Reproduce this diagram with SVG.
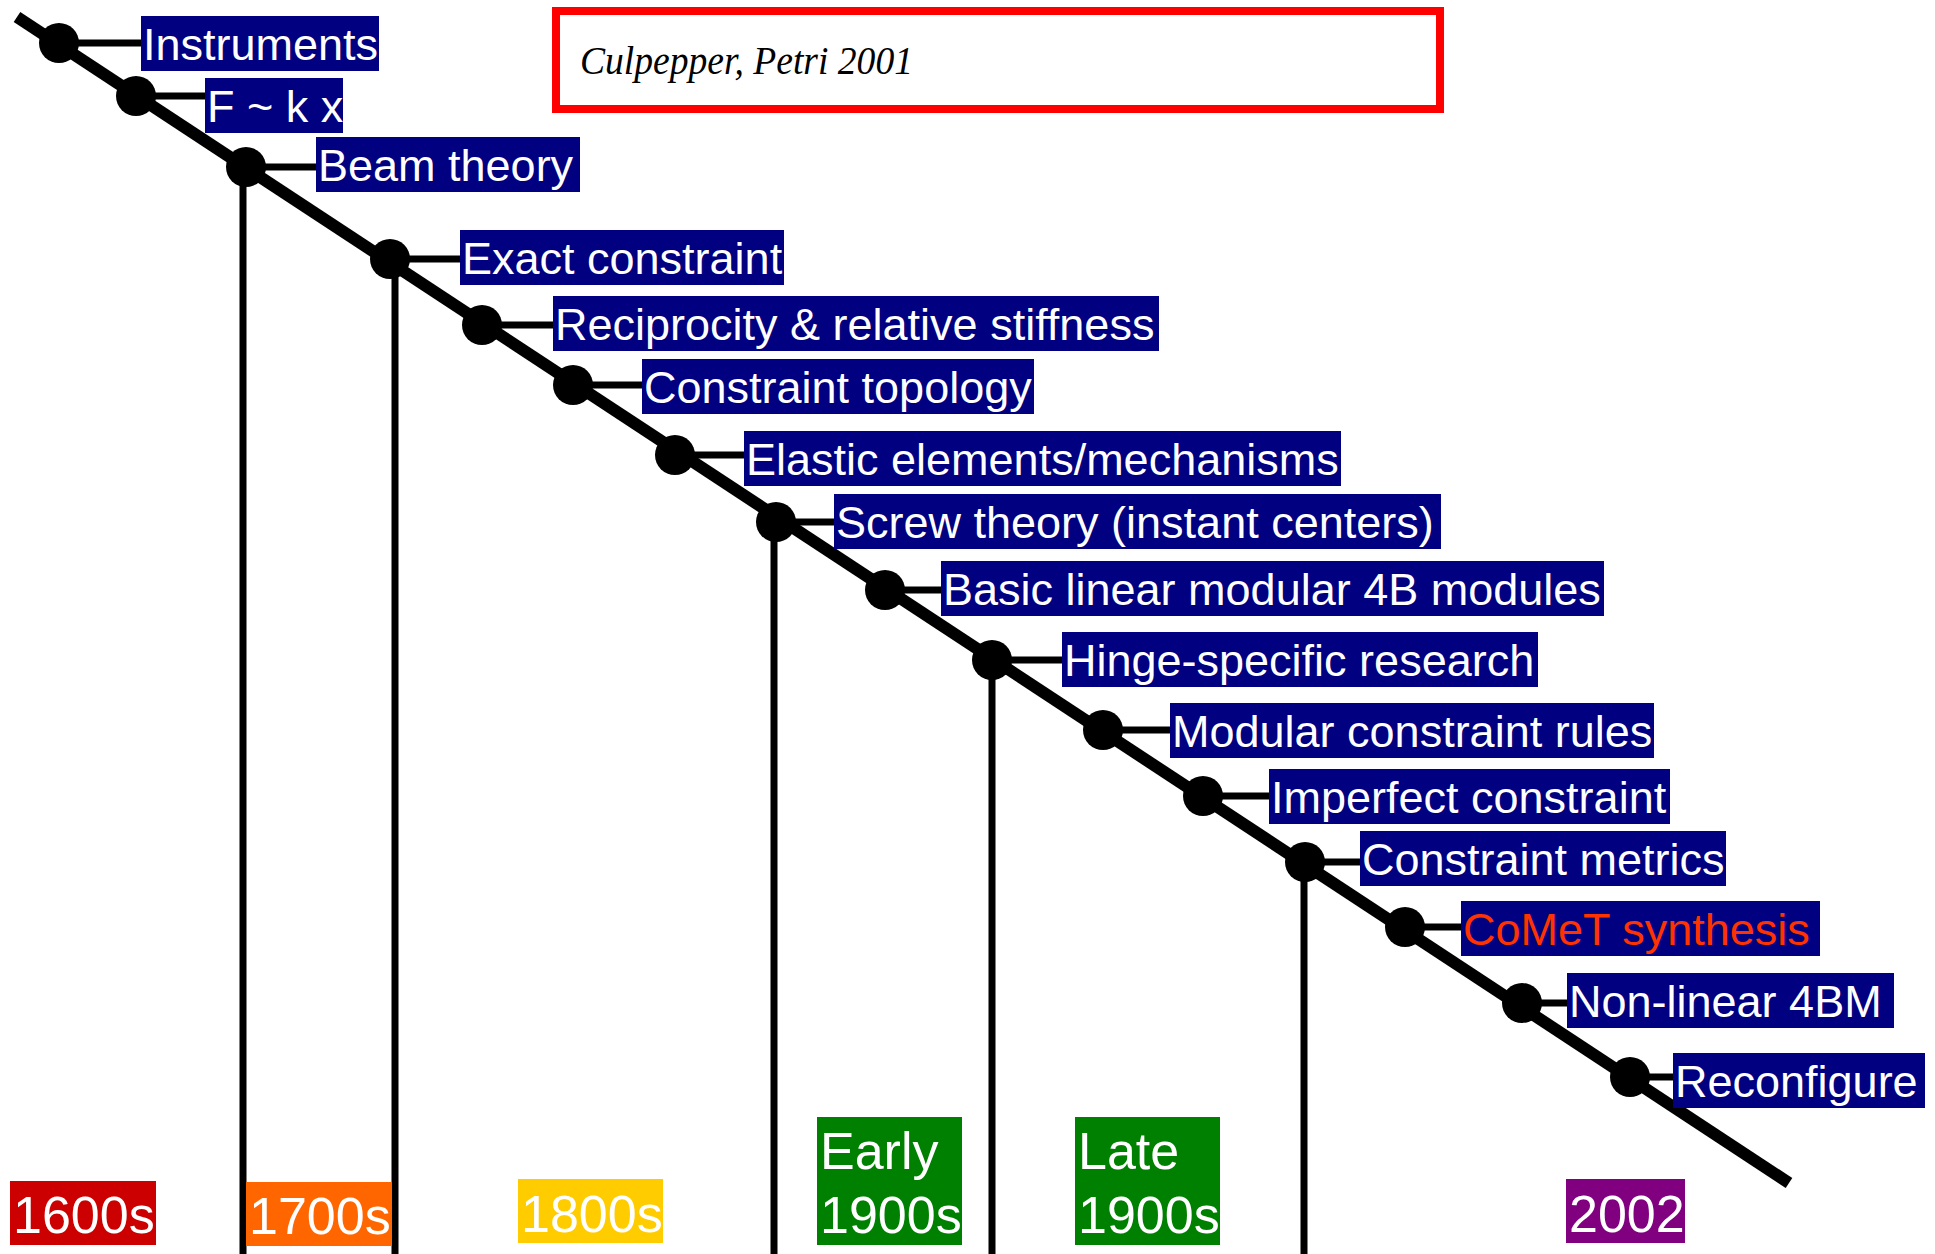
<svg xmlns="http://www.w3.org/2000/svg" width="1935" height="1254" viewBox="0 0 1935 1254">
<style>
.ln{stroke:#000;fill:none}
.main{stroke-width:12}
.tick{stroke-width:7}
.dot{fill:#000}
.box{fill:#000080}
.lbl{font-family:"Liberation Sans",Arial,sans-serif;font-size:45px;fill:#fff}
.per{font-family:"Liberation Sans",Arial,sans-serif;font-size:52px;fill:#fff}
.ref{font-family:"Liberation Serif","Times New Roman",serif;font-style:italic;font-size:39px;fill:#000}
</style>
<rect width="1935" height="1254" fill="#fff"/>
<g id="connectors">
<line class="ln main" x1="17" y1="17" x2="1789" y2="1183"/>
<g class="ln tick">
<line x1="59" y1="43" x2="141" y2="43"/>
<line x1="136" y1="96" x2="205" y2="96"/>
<line x1="246" y1="167" x2="316" y2="167"/>
<line x1="390" y1="259" x2="460" y2="259"/>
<line x1="482" y1="325" x2="553" y2="325"/>
<line x1="573" y1="385" x2="642" y2="385"/>
<line x1="675" y1="455" x2="744" y2="455"/>
<line x1="776" y1="522" x2="834" y2="522"/>
<line x1="885" y1="590" x2="941" y2="590"/>
<line x1="992" y1="660" x2="1062" y2="660"/>
<line x1="1103" y1="730" x2="1170" y2="730"/>
<line x1="1203" y1="796" x2="1269" y2="796"/>
<line x1="1305" y1="862" x2="1360" y2="862"/>
<line x1="1405" y1="927" x2="1461" y2="927"/>
<line x1="1522" y1="1003" x2="1567" y2="1003"/>
<line x1="1630" y1="1077" x2="1673" y2="1077"/>
<line x1="243" y1="167" x2="243" y2="1254"/>
<line x1="395" y1="259" x2="395" y2="1254"/>
<line x1="774" y1="522" x2="774" y2="1254"/>
<line x1="992" y1="660" x2="992" y2="1254"/>
<line x1="1304" y1="862" x2="1304" y2="1254"/>
</g>
</g>
<g id="n1"><circle class="dot" cx="59" cy="43" r="20"/><rect class="box" x="141" y="16" width="238" height="55"/><text class="lbl" x="143" y="60">Instruments</text></g>
<g id="n2"><circle class="dot" cx="136" cy="96" r="20"/><rect class="box" x="205" y="78" width="138" height="55"/><text class="lbl" x="207" y="122">F ~ k x</text></g>
<g id="n3"><circle class="dot" cx="246" cy="167" r="20"/><rect class="box" x="316" y="137" width="264" height="55"/><text class="lbl" x="318" y="181">Beam theory</text></g>
<g id="n4"><circle class="dot" cx="390" cy="259" r="20"/><rect class="box" x="460" y="230" width="324" height="55"/><text class="lbl" x="462" y="274">Exact constraint</text></g>
<g id="n5"><circle class="dot" cx="482" cy="325" r="20"/><rect class="box" x="553" y="296" width="606" height="55"/><text class="lbl" x="555" y="340">Reciprocity &amp; relative stiffness</text></g>
<g id="n6"><circle class="dot" cx="573" cy="385" r="20"/><rect class="box" x="642" y="359" width="392" height="55"/><text class="lbl" x="644" y="403">Constraint topology</text></g>
<g id="n7"><circle class="dot" cx="675" cy="455" r="20"/><rect class="box" x="744" y="431" width="597" height="55"/><text class="lbl" x="746" y="475">Elastic elements/mechanisms</text></g>
<g id="n8"><circle class="dot" cx="776" cy="522" r="20"/><rect class="box" x="834" y="494" width="607" height="55"/><text class="lbl" x="836" y="538">Screw theory (instant centers)</text></g>
<g id="n9"><circle class="dot" cx="885" cy="590" r="20"/><rect class="box" x="941" y="561" width="663" height="55"/><text class="lbl" x="943" y="605">Basic linear modular 4B modules</text></g>
<g id="n10"><circle class="dot" cx="992" cy="660" r="20"/><rect class="box" x="1062" y="632" width="476" height="55"/><text class="lbl" x="1064" y="676">Hinge-specific research</text></g>
<g id="n11"><circle class="dot" cx="1103" cy="730" r="20"/><rect class="box" x="1170" y="703" width="484" height="55"/><text class="lbl" x="1172" y="747">Modular constraint rules</text></g>
<g id="n12"><circle class="dot" cx="1203" cy="796" r="20"/><rect class="box" x="1269" y="769" width="401" height="55"/><text class="lbl" x="1271" y="813">Imperfect constraint</text></g>
<g id="n13"><circle class="dot" cx="1305" cy="862" r="20"/><rect class="box" x="1360" y="831" width="366" height="55"/><text class="lbl" x="1362" y="875">Constraint metrics</text></g>
<g id="n14"><circle class="dot" cx="1405" cy="927" r="20"/><rect class="box" x="1461" y="901" width="359" height="55"/><text class="lbl" x="1463" y="945" style="fill:#FF3300">CoMeT synthesis</text></g>
<g id="n15"><circle class="dot" cx="1522" cy="1003" r="20"/><rect class="box" x="1567" y="973" width="327" height="55"/><text class="lbl" x="1569" y="1017">Non-linear 4BM</text></g>
<g id="n16"><circle class="dot" cx="1630" cy="1077" r="20"/><rect class="box" x="1673" y="1053" width="252" height="55"/><text class="lbl" x="1675" y="1097">Reconfigure</text></g>
<g id="p1600"><rect x="10" y="1181" width="146" height="64" fill="#CC0000"/><text class="per" x="13" y="1233">1600s</text></g>
<g id="p1700"><rect x="246" y="1182" width="146" height="64" fill="#FF6600"/><text class="per" x="249" y="1234">1700s</text></g>
<g id="p1800"><rect x="518" y="1179" width="145" height="64" fill="#FFCC00"/><text class="per" x="521" y="1232">1800s</text></g>
<g id="pEarly"><rect x="817" y="1117" width="145" height="128" fill="#008000"/><text class="per" x="820" y="1169">Early</text><text class="per" x="820" y="1233">1900s</text></g>
<g id="pLate"><rect x="1075" y="1117" width="145" height="128" fill="#008000"/><text class="per" x="1078" y="1169">Late</text><text class="per" x="1078" y="1233">1900s</text></g>
<g id="p2002"><rect x="1566" y="1179" width="119" height="64" fill="#800080"/><text class="per" x="1569" y="1232">2002</text></g>
<g id="ref"><rect x="556" y="11" width="884" height="98" fill="#fff" stroke="#FF0000" stroke-width="8"/><text class="ref" x="580" y="74" textLength="333" lengthAdjust="spacingAndGlyphs">Culpepper, Petri 2001</text></g>
</svg>
